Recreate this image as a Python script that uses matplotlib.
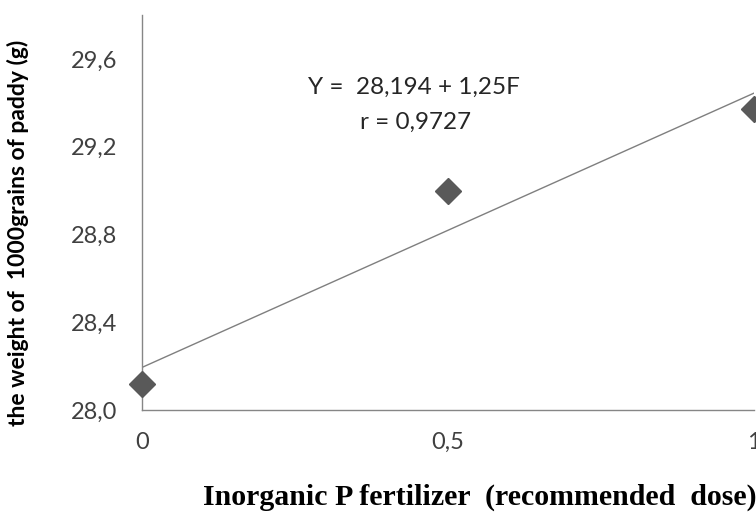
import matplotlib
matplotlib.use("Agg")
import matplotlib.pyplot as plt
import numpy as np

# Data
dose = [0, 0.5, 1]
weight = [28.12, 29.0, 29.37]
intercept = 28.194
slope = 1.25
y_ticks = [28.0, 28.4, 28.8, 29.2, 29.6]
y_tick_labels = ['28,0', '28,4', '28,8', '29,2', '29,6']
x_ticks = [0, 0.5, 1]
x_tick_labels = ['0', '0,5', '1']

fig = plt.figure(figsize=(7.56, 5.13), dpi=100)
ax = fig.add_axes([142/756, 103/513, (754-142)/756, 395/513])

# trend line
xl = np.array([0, 1])
ax.plot(xl, intercept + slope*xl, color='#7f7f7f', lw=1.0, zorder=2)
# points
ax.plot(dose, weight, linestyle='none', marker='D', markersize=13.5,
        color='#595959', clip_on=False, zorder=3)

ax.set_xlim(0, 1)
ax.set_ylim(28.0, 29.8)
ax.set_yticks(y_ticks)
ax.set_yticklabels(y_tick_labels)
ax.set_xticks(x_ticks)
ax.set_xticklabels(x_tick_labels)
ax.tick_params(length=0, labelsize=17, labelcolor='#404040')
ax.tick_params(axis='y', pad=18)
ax.tick_params(axis='x', pad=16)
for lbl in ax.get_xticklabels() + ax.get_yticklabels():
    lbl.set_family('Lato')

for s in ['top', 'right']:
    ax.spines[s].set_visible(False)
for s in ['left', 'bottom']:
    ax.spines[s].set_color('#868686')
    ax.spines[s].set_linewidth(1.0)

ax.text(0.445, 29.472, 'Y =  28,194 + 1,25F', ha='center', va='center',
        fontsize=17.5, family='Lato', color='#262626')
ax.text(0.447, 29.313, 'r = 0,9727', ha='center', va='center',
        fontsize=17.5, family='Lato', color='#262626')

fig.text(0.024, 0.547, 'the weight of  1000grains of paddy (g)', rotation=90,
         ha='center', va='center', fontsize=16.5, fontweight='bold', family='Lato')
fig.text(0.635, 0.031, 'Inorganic P fertilizer  (recommended  dose)',
         ha='center', va='center', fontsize=21.5, fontweight='bold',
         family='Liberation Serif')

plt.savefig('out.png', dpi=100)
